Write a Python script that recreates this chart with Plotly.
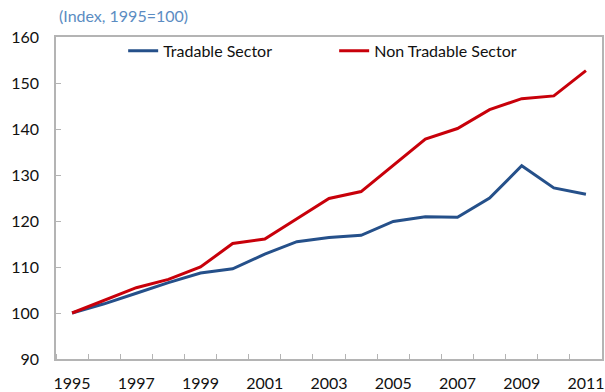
import plotly.graph_objects as go

years = list(range(1995, 2012))
tradable = [100, 102.0, 104.3, 106.6, 108.7, 109.6, 112.8, 115.5, 116.4, 116.9,
            119.9, 120.9, 120.8, 125.0, 132.0, 127.2, 125.8]
non_tradable = [100, 102.7, 105.5, 107.3, 110.0, 115.1, 116.1, 120.5, 124.9, 126.4,
                132.1, 137.8, 140.1, 144.2, 146.6, 147.2, 152.7]
year_labels = [str(y) for y in range(1995, 2012, 2)]

FONT = "Lato"
AXIS_GRAY = "#b4b4b4"

fig = go.Figure()
fig.add_trace(go.Scatter(x=years, y=tradable, mode="lines", name="Tradable Sector",
                         line=dict(color="#25508a", width=3)))
fig.add_trace(go.Scatter(x=years, y=non_tradable, mode="lines", name="Non Tradable Sector",
                         line=dict(color="#c8000a", width=3)))

fig.update_layout(
    width=605, height=392,
    margin=dict(l=56, r=3, t=37, b=33),
    paper_bgcolor="white", plot_bgcolor="white",
    font=dict(family=FONT, size=16, color="#111111"),
    showlegend=True,
    legend=dict(orientation="h", x=0.123, y=1.01, xanchor="left", yanchor="top",
                font=dict(size=16, color="#111111"), entrywidth=166, entrywidthmode="pixels",
                bgcolor="rgba(0,0,0,0)", itemwidth=30),
    annotations=[dict(text="(Index, 1995=100)", xref="paper", yref="paper",
                      x=0.002, y=1.0, xanchor="left", yanchor="bottom", yshift=10,
                      showarrow=False, font=dict(size=16, color="#5b8cc2", family=FONT))],
)

fig.update_xaxes(
    range=[1994.5, 2011.5], automargin=False,
    tickmode="array", tickvals=list(range(1995, 2012, 2)), ticktext=year_labels,
    ticks="", showgrid=False, zeroline=False,
    showline=True, linecolor=AXIS_GRAY, linewidth=1.5, mirror=True,
    minor=dict(tick0=1994.5, dtick=1, ticks="inside", ticklen=5, tickcolor=AXIS_GRAY,
               showgrid=False),
    ticklabelstandoff=9,
    tickfont=dict(size=16, family=FONT),
)
fig.update_yaxes(
    range=[90, 160], dtick=10, automargin=False,
    ticks="inside", ticklen=5, tickcolor=AXIS_GRAY,
    showgrid=False, zeroline=False,
    showline=True, linecolor=AXIS_GRAY, linewidth=1.5, mirror=True,
    ticklabelstandoff=12,
    tickfont=dict(size=16, family=FONT),
)

fig.write_html("out.html")
